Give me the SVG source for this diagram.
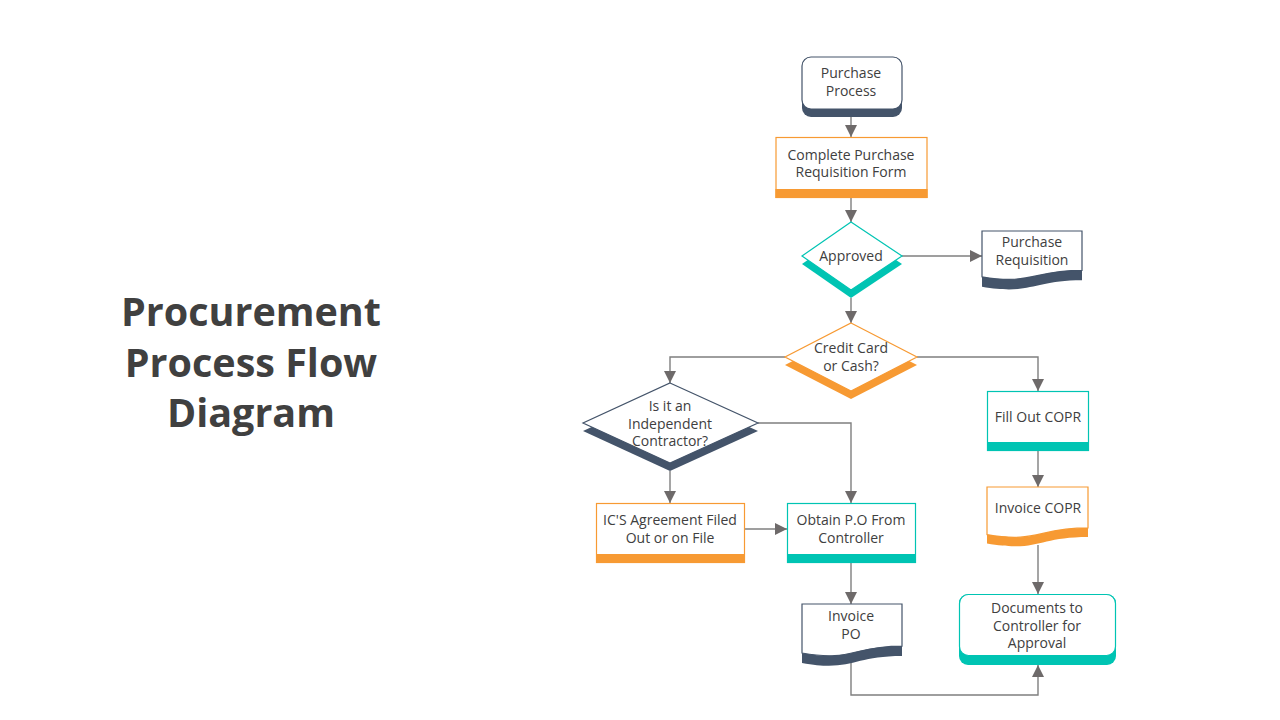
<svg xmlns="http://www.w3.org/2000/svg" width="1280" height="720" viewBox="0 0 1280 720">
<defs>
<marker id="arr" markerUnits="userSpaceOnUse" markerWidth="13" markerHeight="12" refX="12" refY="6" orient="auto">
<path d="M0,0 L12,6 L0,12 Z" fill="#6e6a6a"/>
</marker>
<style>
.t{font-family:"Open Sans","Liberation Sans",sans-serif;font-size:14px;fill:#404040;text-anchor:middle}
.title{font-family:"Open Sans","Liberation Sans",sans-serif;font-size:39.5px;font-weight:bold;fill:#404040;text-anchor:middle}
.c{fill:none;stroke:#7f7f7f;stroke-width:1.4}
.w{fill:#ffffff;stroke-width:1.2}
.nv{fill:#44546A}.tl{fill:#00C4B3}.or{fill:#F79A33}
.snv{stroke:#44546A}.stl{stroke:#00C4B3}.sor{stroke:#F79A33}
</style>
</defs>
<rect width="1280" height="720" fill="#ffffff"/>
<g id="title">
<text class="title" x="251" y="326">Procurement</text>
<text class="title" x="251" y="377">Process Flow</text>
<text class="title" x="251" y="427">Diagram</text>
</g>
<g id="connectors">
<path class="c" d="M851,117 V137" marker-end="url(#arr)"/>
<path class="c" d="M851,198 V222" marker-end="url(#arr)"/>
<path class="c" d="M902,256 H982" marker-end="url(#arr)"/>
<path class="c" d="M851,298 V323" marker-end="url(#arr)"/>
<path class="c" d="M785,357 H670 V383" marker-end="url(#arr)"/>
<path class="c" d="M917,357 H1038 V391" marker-end="url(#arr)"/>
<path class="c" d="M758,423 H851 V503" marker-end="url(#arr)"/>
<path class="c" d="M670,471 V503" marker-end="url(#arr)"/>
<path class="c" d="M744,529 H787" marker-end="url(#arr)"/>
<path class="c" d="M1038,451 V487" marker-end="url(#arr)"/>
<path class="c" d="M1038,545 V594" marker-end="url(#arr)"/>
<path class="c" d="M851,563 V604" marker-end="url(#arr)"/>
<path class="c" d="M851,662 V695 H1038 V665" marker-end="url(#arr)"/>
</g>
<g id="purchase-process">
<rect class="nv" x="802" y="57" width="100" height="60" rx="9"/>
<rect class="w snv" x="802" y="57" width="100" height="52" rx="9"/>
<text class="t" x="851" y="78">Purchase</text>
<text class="t" x="851" y="96">Process</text>
</g>
<g id="complete-form">
<rect class="w sor" x="776" y="137.5" width="151" height="60"/>
<rect class="or" x="775.4" y="189" width="152.2" height="9"/>
<text class="t" x="851" y="160">Complete Purchase</text>
<text class="t" x="851" y="177">Requisition Form</text>
</g>
<g id="approved">
<polygon class="tl" points="851,230 902,264 851,298 802,264"/>
<polygon class="w stl" points="851,222 902,256 851,290 802,256"/>
<text class="t" x="851" y="261">Approved</text>
</g>
<g id="purchase-requisition">
<path class="nv" d="M982,241 H1082 V280.3 C1032,280.3 1032,295.3 982,286.8 Z"/>
<path class="w snv" d="M982,231 H1082 V270.3 C1032,270.3 1032,285.3 982,276.8 Z"/>
<text class="t" x="1032" y="247">Purchase</text>
<text class="t" x="1032" y="265">Requisition</text>
</g>
<g id="credit-card">
<polygon class="or" points="851,331 917,365 851,399 785,365"/>
<polygon class="w sor" points="851,323 917,357 851,391 785,357"/>
<text class="t" x="851" y="353">Credit Card</text>
<text class="t" x="851" y="371">or Cash?</text>
</g>
<g id="independent">
<polygon class="nv" points="670,391 758,431 670,471 583,431"/>
<polygon class="w snv" points="670,383 758,423 670,463 583,423"/>
<text class="t" x="670" y="411">Is it an</text>
<text class="t" x="670" y="429">Independent</text>
<text class="t" x="670" y="446">Contractor?</text>
</g>
<g id="ics-agreement">
<rect class="w sor" x="596.5" y="503.5" width="148" height="59"/>
<rect class="or" x="596" y="554" width="149" height="9"/>
<text class="t" x="670" y="525">IC'S Agreement Filed</text>
<text class="t" x="670" y="543">Out or on File</text>
</g>
<g id="obtain-po">
<rect class="w stl" x="787.5" y="503.5" width="128" height="59"/>
<rect class="tl" x="787" y="554" width="129" height="9"/>
<text class="t" x="851" y="525">Obtain P.O From</text>
<text class="t" x="851" y="543">Controller</text>
</g>
<g id="fill-out-copr">
<rect class="w stl" x="987.5" y="391.5" width="101" height="59"/>
<rect class="tl" x="987" y="442" width="102" height="9"/>
<text class="t" x="1038" y="422">Fill Out COPR</text>
</g>
<g id="invoice-copr">
<path class="or" d="M987,496 H1088 V536.9 C1037.5,536.9 1037.5,552.5 987,543.6 Z"/>
<path class="w sor" d="M987,487 H1088 V527.9 C1037.5,527.9 1037.5,543.5 987,534.6 Z"/>
<text class="t" x="1038" y="513">Invoice COPR</text>
</g>
<g id="invoice-po">
<path class="nv" d="M802,614 H902 V656.1 C852,656.1 852,672.1 802,663 Z"/>
<path class="w snv" d="M802,604 H902 V646.1 C852,646.1 852,662.1 802,653 Z"/>
<text class="t" x="851" y="621">Invoice</text>
<text class="t" x="851" y="639">PO</text>
</g>
<g id="documents">
<rect class="tl" x="959" y="594" width="157" height="71" rx="9"/>
<rect class="w stl" x="959.5" y="594.5" width="156" height="61" rx="9"/>
<text class="t" x="1037" y="613">Documents to</text>
<text class="t" x="1037" y="631">Controller for</text>
<text class="t" x="1037" y="648">Approval</text>
</g>
</svg>
